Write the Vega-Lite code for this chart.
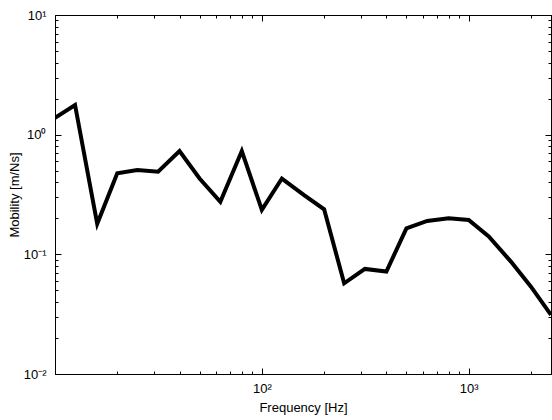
{
  "$schema": "https://vega.github.io/schema/vega-lite/v6.json",
  "width": 496,
  "height": 359,
  "autosize": {"type": "none"},
  "padding": {"left": 55, "top": 15, "right": 1, "bottom": 46},
  "background": "white",
  "config": {
    "view": {"stroke": "black", "strokeWidth": 1},
    "font": "Liberation Sans",
    "axis": {
      "grid": false,
      "domainColor": "black",
      "tickColor": "black",
      "labelColor": "black",
      "titleColor": "black",
      "labelFont": "Liberation Sans",
      "titleFont": "Liberation Sans",
      "labelFontSize": 13,
      "titleFontSize": 13,
      "titleFontWeight": "normal",
      "tickWidth": 1
    }
  },
  "data": {
    "values": [
      {"f": 10, "m": 1.38},
      {"f": 12.5, "m": 1.77},
      {"f": 16, "m": 0.18},
      {"f": 20, "m": 0.475},
      {"f": 25, "m": 0.507},
      {"f": 31.5, "m": 0.49},
      {"f": 40, "m": 0.73},
      {"f": 50, "m": 0.43},
      {"f": 63, "m": 0.275},
      {"f": 80, "m": 0.73},
      {"f": 100, "m": 0.235},
      {"f": 125, "m": 0.43},
      {"f": 160, "m": 0.313},
      {"f": 200, "m": 0.238},
      {"f": 250, "m": 0.0573},
      {"f": 315, "m": 0.0755},
      {"f": 400, "m": 0.0718},
      {"f": 500, "m": 0.165},
      {"f": 630, "m": 0.19},
      {"f": 800, "m": 0.2},
      {"f": 1000, "m": 0.194},
      {"f": 1250, "m": 0.141},
      {"f": 1600, "m": 0.087},
      {"f": 2000, "m": 0.0537},
      {"f": 2500, "m": 0.0312}
    ]
  },
  "resolve": {"axis": {"x": "independent", "y": "independent"}},
  "layer": [
    {
      "mark": {"type": "line", "color": "black", "strokeWidth": 4, "strokeJoin": "miter", "clip": true},
      "encoding": {
        "x": {
          "field": "f", "type": "quantitative",
          "scale": {"type": "log", "domain": [10, 2500], "nice": false},
          "axis": {
            "orient": "bottom",
            "title": "Frequency [Hz]",
            "titlePadding": 3,
            "values": [10, 20, 30, 40, 50, 60, 70, 80, 90, 100, 200, 300, 400, 500, 600, 700, 800, 900, 1000, 2000],
            "tickSize": {"condition": {"test": "abs(log(datum.value)/LN10 - round(log(datum.value)/LN10)) < 0.001", "value": -6}, "value": -3},
            "labelExpr": "datum.value == 10 ? '' : datum.value == 100 ? '10²' : datum.value == 1000 ? '10³' : ''",
            "labelPadding": 14,
            "labelFlush": false,
            "labelOverlap": false
          }
        },
        "y": {
          "field": "m", "type": "quantitative",
          "scale": {"type": "log", "domain": [0.01, 10], "nice": false},
          "axis": {
            "orient": "left",
            "title": "Mobility [m/Ns]",
            "titlePadding": 2,
            "values": [0.01, 0.02, 0.03, 0.04, 0.05, 0.06, 0.07, 0.08, 0.09, 0.1, 0.2, 0.3, 0.4, 0.5, 0.6, 0.7, 0.8, 0.9, 1, 2, 3, 4, 5, 6, 7, 8, 9, 10],
            "tickSize": {"condition": {"test": "abs(log(datum.value)/LN10 - round(log(datum.value)/LN10)) < 0.001", "value": -6}, "value": -3},
            "labelExpr": "datum.value == 0.01 ? '10⁻²' : datum.value == 0.1 ? '10⁻¹' : datum.value == 1 ? '10⁰' : datum.value == 10 ? '10¹' : ''",
            "labelPadding": 15,
            "labelFlush": false,
            "labelOverlap": false
          }
        }
      }
    },
    {
      "mark": {"type": "line", "opacity": 0},
      "encoding": {
        "x": {
          "field": "f", "type": "quantitative",
          "axis": {
            "orient": "top",
            "title": null,
            "labels": false,
            "values": [10, 20, 30, 40, 50, 60, 70, 80, 90, 100, 200, 300, 400, 500, 600, 700, 800, 900, 1000, 2000],
            "tickSize": {"condition": {"test": "abs(log(datum.value)/LN10 - round(log(datum.value)/LN10)) < 0.001", "value": -6}, "value": -3}
          }
        },
        "y": {
          "field": "m", "type": "quantitative",
          "axis": {
            "orient": "right",
            "title": null,
            "labels": false,
            "values": [0.01, 0.02, 0.03, 0.04, 0.05, 0.06, 0.07, 0.08, 0.09, 0.1, 0.2, 0.3, 0.4, 0.5, 0.6, 0.7, 0.8, 0.9, 1, 2, 3, 4, 5, 6, 7, 8, 9, 10],
            "tickSize": {"condition": {"test": "abs(log(datum.value)/LN10 - round(log(datum.value)/LN10)) < 0.001", "value": -6}, "value": -3}
          }
        }
      }
    }
  ]
}
